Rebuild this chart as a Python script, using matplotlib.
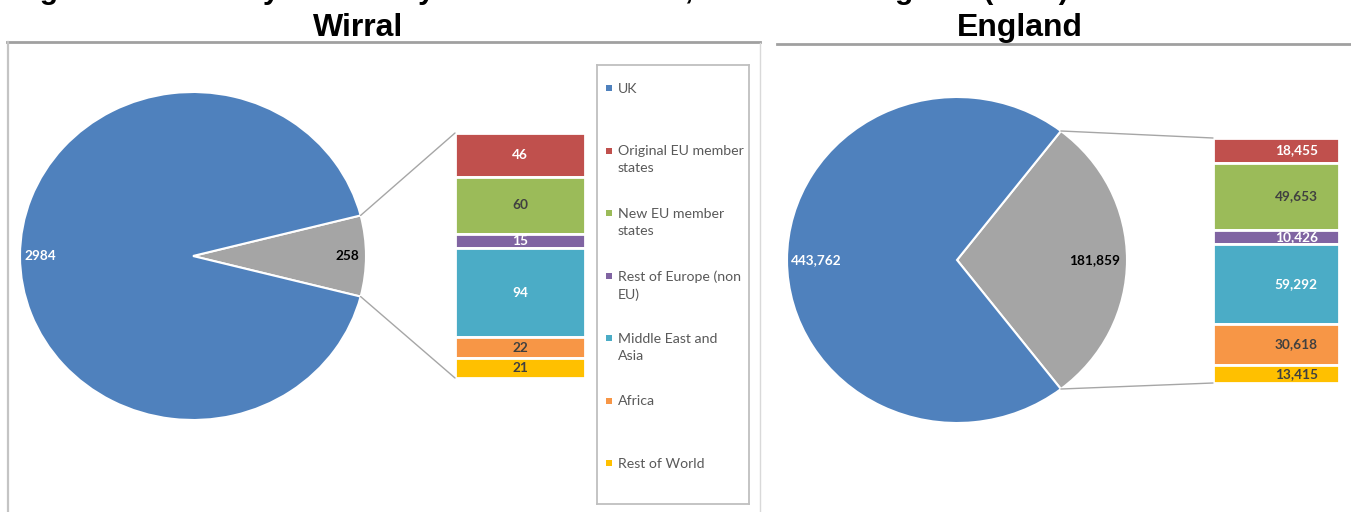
import math
import matplotlib
matplotlib.use("Agg")
import matplotlib.pyplot as plt
from matplotlib.patches import ConnectionPatch, Rectangle
from matplotlib.lines import Line2D

W, H = 1351, 512

# ---- data -------------------------------------------------------------
areas = ["Wirral", "England"]
wirral_pie = [2984, 258]          # UK-born, non-UK-born
england_pie = [443762, 181859]
breakdown_labels = [
    "Original EU member\nstates",
    "New EU member\nstates",
    "Rest of Europe (non\nEU)",
    "Middle East and\nAsia",
    "Africa",
    "Rest of World",
]
wirral_breakdown = [46, 60, 15, 94, 22, 21]
england_breakdown = [18455, 49653, 10426, 59292, 30618, 13415]
legend_labels = ["UK"] + breakdown_labels

# ---- styling ----------------------------------------------------------
pie_colors = ["#A5A5A5", "#4F81BD"]          # non-UK slice, UK slice
bar_colors = ["#C0504D", "#9BBB59", "#8064A2", "#4BACC6", "#F79646", "#FFC000"]
legend_colors = ["#4F81BD"] + bar_colors
bar_text_colors = ["white", "#404040", "white", "white", "#404040", "#404040"]
LABEL_FONT = "Lato"
TITLE_FONT = "Liberation Sans"
LINE_GREY = "#A6A6A6"

fig = plt.figure(figsize=(W / 100, H / 100), dpi=100)
fig.patch.set_facecolor("white")


def rect(x0, y0, x1, y1):
    """Figure-fraction rectangle from pixel corners (origin top-left)."""
    return [x0 / W, 1 - y1 / H, (x1 - x0) / W, (y1 - y0) / H]


def fx(px):
    return px / W


def fy(py):
    return 1 - py / H


def draw_pie(cx, cy, rx, ry, values, fmt, blue_r, grey_r):
    ax = fig.add_axes(rect(cx - rx, cy - ry, cx + rx, cy + ry))
    uk, other = values
    other_deg = 360.0 * other / (uk + other)
    ax.pie([other, uk], colors=pie_colors, startangle=-other_deg / 2,
           counterclock=True, radius=1.0,
           wedgeprops=dict(edgecolor="white", linewidth=1.5))
    ax.set_aspect("auto")
    ax.set_xlim(-1, 1)
    ax.set_ylim(-1, 1)
    ax.set_axis_off()
    ax.text(-blue_r, 0, fmt.format(uk), ha="center", va="center",
            color="white", fontsize=9.8, fontweight="bold", family=LABEL_FONT)
    ax.text(grey_r, 0, fmt.format(other), ha="center", va="center",
            color="black", fontsize=9.8, fontweight="bold", family=LABEL_FONT)
    return ax, other_deg


def draw_bar(x0, y0, x1, y1, values, fmt, text_x):
    ax = fig.add_axes(rect(x0, y0, x1, y1))
    total = sum(values)
    bottom = 0
    for v, c, tc in zip(values, bar_colors, bar_text_colors):
        ax.bar(0, v, bottom=bottom, width=1.0, color=c,
               edgecolor="white", linewidth=2)
        ax.text(text_x, bottom + v / 2, fmt.format(v), ha="center",
                va="center", color=tc, fontsize=9.8, fontweight="bold",
                family=LABEL_FONT)
        bottom += v
    ax.set_xlim(-0.5, 0.5)
    ax.set_ylim(total, 0)
    ax.set_axis_off()
    return ax, total


def connect(ax_pie, deg, ax_bar, total):
    a = math.radians(deg / 2)
    for sgn, yb in ((1, 0), (-1, total)):
        con = ConnectionPatch(xyA=(math.cos(a), sgn * math.sin(a)),
                              coordsA=ax_pie.transData,
                              xyB=(-0.5, yb), coordsB=ax_bar.transData,
                              color=LINE_GREY, linewidth=1.0)
        fig.add_artist(con)


# ---- panel frames -----------------------------------------------------
fig.add_artist(Line2D([fx(7), fx(760)], [fy(42), fy(42)],
                      color="#A0A0A0", linewidth=2.0))
fig.add_artist(Line2D([fx(8), fx(8)], [fy(42), fy(512)],
                      color="#C4C4C4", linewidth=1.6))
fig.add_artist(Line2D([fx(760), fx(760)], [fy(43), fy(512)],
                      color="#D9D9D9", linewidth=1.0))
fig.add_artist(Line2D([fx(777), fx(1351)], [fy(44), fy(44)],
                      color="#A0A0A0", linewidth=2.0))

# ---- titles -----------------------------------------------------------
fig.text(fx(13), fy(-1), "Figure 10: Country of birth by broad world area, "
         "Wirral and England (2011)", ha="left", va="baseline",
         fontsize=21.6, fontweight="bold", family=TITLE_FONT)
fig.text(fx(358), fy(36), areas[0], ha="center", va="baseline",
         fontsize=23, fontweight="bold", family=TITLE_FONT)
fig.text(fx(1020), fy(36), areas[1], ha="center", va="baseline",
         fontsize=23, fontweight="bold", family=TITLE_FONT)

# ---- Wirral -----------------------------------------------------------
pie_w, deg_w = draw_pie(193, 256, 173, 164, wirral_pie, "{}", 0.88, 0.89)
bar_w, tot_w = draw_bar(455, 133, 585, 378, wirral_breakdown, "{}", 0.0)
connect(pie_w, deg_w, bar_w, tot_w)

# ---- England ----------------------------------------------------------
pie_e, deg_e = draw_pie(957, 260, 170, 163, england_pie, "{:,}", 0.83, 0.81)
bar_e, tot_e = draw_bar(1213, 138, 1339, 383, england_breakdown, "{:,}", 0.16)
connect(pie_e, deg_e, bar_e, tot_e)

# ---- legend -----------------------------------------------------------
lg = fig.add_axes(rect(597, 65, 749, 504))
lg.set_xlim(597, 749)
lg.set_ylim(504, 65)
lg.set_xticks([])
lg.set_yticks([])
for sp in lg.spines.values():
    sp.set_color("#BFBFBF")
    sp.set_linewidth(1.3)
for i, (lab, col) in enumerate(zip(legend_labels, legend_colors)):
    y = 88 + i * 62.5
    lg.add_patch(Rectangle((606, y - 3), 6, 6, facecolor=col, edgecolor="none"))
    lg.text(618, y - 5.2, lab, ha="left", va="top", color="#595959",
            fontsize=10.2, family=LABEL_FONT, linespacing=1.5)

fig.savefig("out.png", dpi=100)
